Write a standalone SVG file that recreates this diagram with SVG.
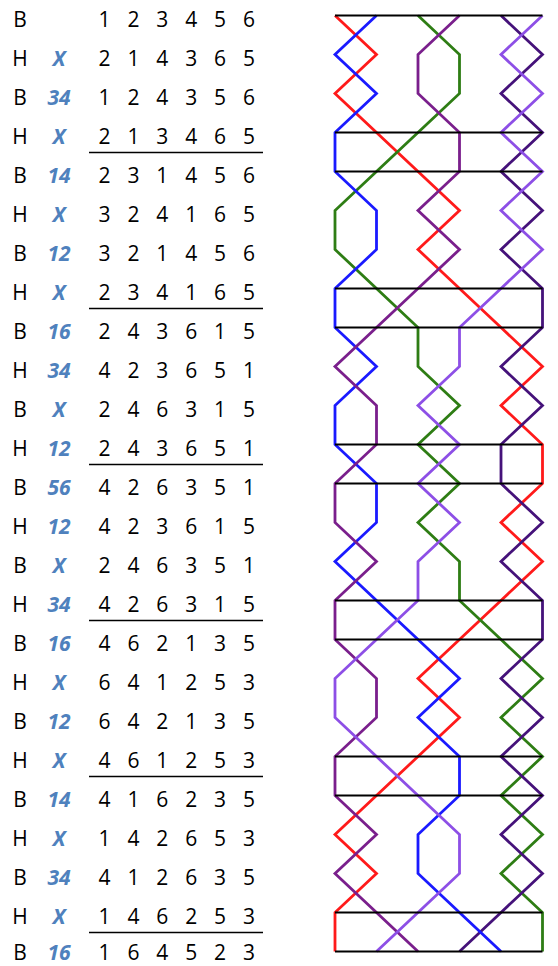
<svg xmlns="http://www.w3.org/2000/svg" width="558" height="966" viewBox="0 0 558 966">
<style>
text{font-family:"Open Sans","Liberation Sans",sans-serif;font-size:21px;fill:#000;text-anchor:middle}
.pn{font-weight:bold;font-style:italic;fill:#4f81bd}
.rule{stroke:#000;stroke-width:1.3}
.bar{stroke:#000;stroke-width:2}
.bell{fill:none;stroke-width:2.8;stroke-linejoin:miter}
.b1{stroke:#ff1a1a}.b2{stroke:#1a1aff}.b3{stroke:#2e7d14}.b4{stroke:#7a1f8c}.b5{stroke:#45127a}.b6{stroke:#8d4fe6}
</style>
<rect width="558" height="966" fill="#fff"/>
<g id="table">
<g id="row1"><text x="20" y="27">B</text><text x="104.5" y="27">1</text><text x="133.4" y="27">2</text><text x="162.3" y="27">3</text><text x="191.2" y="27">4</text><text x="220.1" y="27">5</text><text x="249" y="27">6</text></g>
<g id="row2"><text x="20" y="66">H</text><text class="pn" x="59" y="66">X</text><text x="104.5" y="66">2</text><text x="133.4" y="66">1</text><text x="162.3" y="66">4</text><text x="191.2" y="66">3</text><text x="220.1" y="66">6</text><text x="249" y="66">5</text></g>
<g id="row3"><text x="20" y="105">B</text><text class="pn" x="59" y="105">34</text><text x="104.5" y="105">1</text><text x="133.4" y="105">2</text><text x="162.3" y="105">4</text><text x="191.2" y="105">3</text><text x="220.1" y="105">5</text><text x="249" y="105">6</text></g>
<g id="row4"><text x="20" y="144">H</text><text class="pn" x="59" y="144">X</text><text x="104.5" y="144">2</text><text x="133.4" y="144">1</text><text x="162.3" y="144">3</text><text x="191.2" y="144">4</text><text x="220.1" y="144">6</text><text x="249" y="144">5</text></g>
<g id="row5"><text x="20" y="183">B</text><text class="pn" x="59" y="183">14</text><text x="104.5" y="183">2</text><text x="133.4" y="183">3</text><text x="162.3" y="183">1</text><text x="191.2" y="183">4</text><text x="220.1" y="183">5</text><text x="249" y="183">6</text></g>
<g id="row6"><text x="20" y="222">H</text><text class="pn" x="59" y="222">X</text><text x="104.5" y="222">3</text><text x="133.4" y="222">2</text><text x="162.3" y="222">4</text><text x="191.2" y="222">1</text><text x="220.1" y="222">6</text><text x="249" y="222">5</text></g>
<g id="row7"><text x="20" y="261">B</text><text class="pn" x="59" y="261">12</text><text x="104.5" y="261">3</text><text x="133.4" y="261">2</text><text x="162.3" y="261">1</text><text x="191.2" y="261">4</text><text x="220.1" y="261">5</text><text x="249" y="261">6</text></g>
<g id="row8"><text x="20" y="300">H</text><text class="pn" x="59" y="300">X</text><text x="104.5" y="300">2</text><text x="133.4" y="300">3</text><text x="162.3" y="300">4</text><text x="191.2" y="300">1</text><text x="220.1" y="300">6</text><text x="249" y="300">5</text></g>
<g id="row9"><text x="20" y="339">B</text><text class="pn" x="59" y="339">16</text><text x="104.5" y="339">2</text><text x="133.4" y="339">4</text><text x="162.3" y="339">3</text><text x="191.2" y="339">6</text><text x="220.1" y="339">1</text><text x="249" y="339">5</text></g>
<g id="row10"><text x="20" y="378">H</text><text class="pn" x="59" y="378">34</text><text x="104.5" y="378">4</text><text x="133.4" y="378">2</text><text x="162.3" y="378">3</text><text x="191.2" y="378">6</text><text x="220.1" y="378">5</text><text x="249" y="378">1</text></g>
<g id="row11"><text x="20" y="417">B</text><text class="pn" x="59" y="417">X</text><text x="104.5" y="417">2</text><text x="133.4" y="417">4</text><text x="162.3" y="417">6</text><text x="191.2" y="417">3</text><text x="220.1" y="417">1</text><text x="249" y="417">5</text></g>
<g id="row12"><text x="20" y="456">H</text><text class="pn" x="59" y="456">12</text><text x="104.5" y="456">2</text><text x="133.4" y="456">4</text><text x="162.3" y="456">3</text><text x="191.2" y="456">6</text><text x="220.1" y="456">5</text><text x="249" y="456">1</text></g>
<g id="row13"><text x="20" y="495">B</text><text class="pn" x="59" y="495">56</text><text x="104.5" y="495">4</text><text x="133.4" y="495">2</text><text x="162.3" y="495">6</text><text x="191.2" y="495">3</text><text x="220.1" y="495">5</text><text x="249" y="495">1</text></g>
<g id="row14"><text x="20" y="534">H</text><text class="pn" x="59" y="534">12</text><text x="104.5" y="534">4</text><text x="133.4" y="534">2</text><text x="162.3" y="534">3</text><text x="191.2" y="534">6</text><text x="220.1" y="534">1</text><text x="249" y="534">5</text></g>
<g id="row15"><text x="20" y="573">B</text><text class="pn" x="59" y="573">X</text><text x="104.5" y="573">2</text><text x="133.4" y="573">4</text><text x="162.3" y="573">6</text><text x="191.2" y="573">3</text><text x="220.1" y="573">5</text><text x="249" y="573">1</text></g>
<g id="row16"><text x="20" y="612">H</text><text class="pn" x="59" y="612">34</text><text x="104.5" y="612">4</text><text x="133.4" y="612">2</text><text x="162.3" y="612">6</text><text x="191.2" y="612">3</text><text x="220.1" y="612">1</text><text x="249" y="612">5</text></g>
<g id="row17"><text x="20" y="651">B</text><text class="pn" x="59" y="651">16</text><text x="104.5" y="651">4</text><text x="133.4" y="651">6</text><text x="162.3" y="651">2</text><text x="191.2" y="651">1</text><text x="220.1" y="651">3</text><text x="249" y="651">5</text></g>
<g id="row18"><text x="20" y="690">H</text><text class="pn" x="59" y="690">X</text><text x="104.5" y="690">6</text><text x="133.4" y="690">4</text><text x="162.3" y="690">1</text><text x="191.2" y="690">2</text><text x="220.1" y="690">5</text><text x="249" y="690">3</text></g>
<g id="row19"><text x="20" y="729">B</text><text class="pn" x="59" y="729">12</text><text x="104.5" y="729">6</text><text x="133.4" y="729">4</text><text x="162.3" y="729">2</text><text x="191.2" y="729">1</text><text x="220.1" y="729">3</text><text x="249" y="729">5</text></g>
<g id="row20"><text x="20" y="768">H</text><text class="pn" x="59" y="768">X</text><text x="104.5" y="768">4</text><text x="133.4" y="768">6</text><text x="162.3" y="768">1</text><text x="191.2" y="768">2</text><text x="220.1" y="768">5</text><text x="249" y="768">3</text></g>
<g id="row21"><text x="20" y="807">B</text><text class="pn" x="59" y="807">14</text><text x="104.5" y="807">4</text><text x="133.4" y="807">1</text><text x="162.3" y="807">6</text><text x="191.2" y="807">2</text><text x="220.1" y="807">3</text><text x="249" y="807">5</text></g>
<g id="row22"><text x="20" y="846">H</text><text class="pn" x="59" y="846">X</text><text x="104.5" y="846">1</text><text x="133.4" y="846">4</text><text x="162.3" y="846">2</text><text x="191.2" y="846">6</text><text x="220.1" y="846">5</text><text x="249" y="846">3</text></g>
<g id="row23"><text x="20" y="885">B</text><text class="pn" x="59" y="885">34</text><text x="104.5" y="885">4</text><text x="133.4" y="885">1</text><text x="162.3" y="885">2</text><text x="191.2" y="885">6</text><text x="220.1" y="885">3</text><text x="249" y="885">5</text></g>
<g id="row24"><text x="20" y="924">H</text><text class="pn" x="59" y="924">X</text><text x="104.5" y="924">1</text><text x="133.4" y="924">4</text><text x="162.3" y="924">6</text><text x="191.2" y="924">2</text><text x="220.1" y="924">5</text><text x="249" y="924">3</text></g>
<g id="row25"><text x="20" y="960">B</text><text class="pn" x="59" y="960">16</text><text x="104.5" y="960">1</text><text x="133.4" y="960">6</text><text x="162.3" y="960">4</text><text x="191.2" y="960">5</text><text x="220.1" y="960">2</text><text x="249" y="960">3</text></g>
<g id="rules">
<line class="rule" x1="89" y1="152.5" x2="263" y2="152.5"/>
<line class="rule" x1="89" y1="308.5" x2="263" y2="308.5"/>
<line class="rule" x1="89" y1="464.5" x2="263" y2="464.5"/>
<line class="rule" x1="89" y1="620.5" x2="263" y2="620.5"/>
<line class="rule" x1="89" y1="776.5" x2="263" y2="776.5"/>
<line class="rule" x1="89" y1="932.5" x2="263" y2="932.5"/>
</g>
</g>
<g id="connectors">
<polyline id="bell1" class="bell b1" points="335,15.5 376.5,54.5 335,93.5 376.5,132.5 418,171.5 459.5,210.5 418,249.5 459.5,288.5 501,327.5 542.5,366.5 501,405.5 542.5,444.5 542.5,483.5 501,522.5 542.5,561.5 501,600.5 459.5,639.5 418,678.5 459.5,717.5 418,756.5 376.5,795.5 335,834.5 376.5,873.5 335,912.5 335,951.5"/>
<polyline id="bell3" class="bell b3" points="418,15.5 459.5,54.5 459.5,93.5 418,132.5 376.5,171.5 335,210.5 335,249.5 376.5,288.5 418,327.5 418,366.5 459.5,405.5 418,444.5 459.5,483.5 418,522.5 459.5,561.5 459.5,600.5 501,639.5 542.5,678.5 501,717.5 542.5,756.5 501,795.5 542.5,834.5 501,873.5 542.5,912.5 542.5,951.5"/>
<polyline id="bell5" class="bell b5" points="501,15.5 542.5,54.5 501,93.5 542.5,132.5 501,171.5 542.5,210.5 501,249.5 542.5,288.5 542.5,327.5 501,366.5 542.5,405.5 501,444.5 501,483.5 542.5,522.5 501,561.5 542.5,600.5 542.5,639.5 501,678.5 542.5,717.5 501,756.5 542.5,795.5 501,834.5 542.5,873.5 501,912.5 459.5,951.5"/>
<polyline id="bell2" class="bell b2" points="376.5,15.5 335,54.5 376.5,93.5 335,132.5 335,171.5 376.5,210.5 376.5,249.5 335,288.5 335,327.5 376.5,366.5 335,405.5 335,444.5 376.5,483.5 376.5,522.5 335,561.5 376.5,600.5 418,639.5 459.5,678.5 418,717.5 459.5,756.5 459.5,795.5 418,834.5 418,873.5 459.5,912.5 501,951.5"/>
<polyline id="bell4" class="bell b4" points="459.5,15.5 418,54.5 418,93.5 459.5,132.5 459.5,171.5 418,210.5 459.5,249.5 418,288.5 376.5,327.5 335,366.5 376.5,405.5 376.5,444.5 335,483.5 335,522.5 376.5,561.5 335,600.5 335,639.5 376.5,678.5 376.5,717.5 335,756.5 335,795.5 376.5,834.5 335,873.5 376.5,912.5 418,951.5"/>
<polyline id="bell6" class="bell b6" points="542.5,15.5 501,54.5 542.5,93.5 501,132.5 542.5,171.5 501,210.5 542.5,249.5 501,288.5 459.5,327.5 459.5,366.5 418,405.5 459.5,444.5 418,483.5 459.5,522.5 418,561.5 418,600.5 376.5,639.5 335,678.5 335,717.5 376.5,756.5 418,795.5 459.5,834.5 459.5,873.5 418,912.5 376.5,951.5"/>
<g id="bars">
<line class="bar" x1="335" y1="15.5" x2="542.5" y2="15.5"/>
<line class="bar" x1="335" y1="132.5" x2="542.5" y2="132.5"/>
<line class="bar" x1="335" y1="171.5" x2="542.5" y2="171.5"/>
<line class="bar" x1="335" y1="288.5" x2="542.5" y2="288.5"/>
<line class="bar" x1="335" y1="327.5" x2="542.5" y2="327.5"/>
<line class="bar" x1="335" y1="444.5" x2="542.5" y2="444.5"/>
<line class="bar" x1="335" y1="483.5" x2="542.5" y2="483.5"/>
<line class="bar" x1="335" y1="600.5" x2="542.5" y2="600.5"/>
<line class="bar" x1="335" y1="639.5" x2="542.5" y2="639.5"/>
<line class="bar" x1="335" y1="756.5" x2="542.5" y2="756.5"/>
<line class="bar" x1="335" y1="795.5" x2="542.5" y2="795.5"/>
<line class="bar" x1="335" y1="912.5" x2="542.5" y2="912.5"/>
<line class="bar" x1="335" y1="951.5" x2="542.5" y2="951.5"/>
</g>
</g>
</svg>
